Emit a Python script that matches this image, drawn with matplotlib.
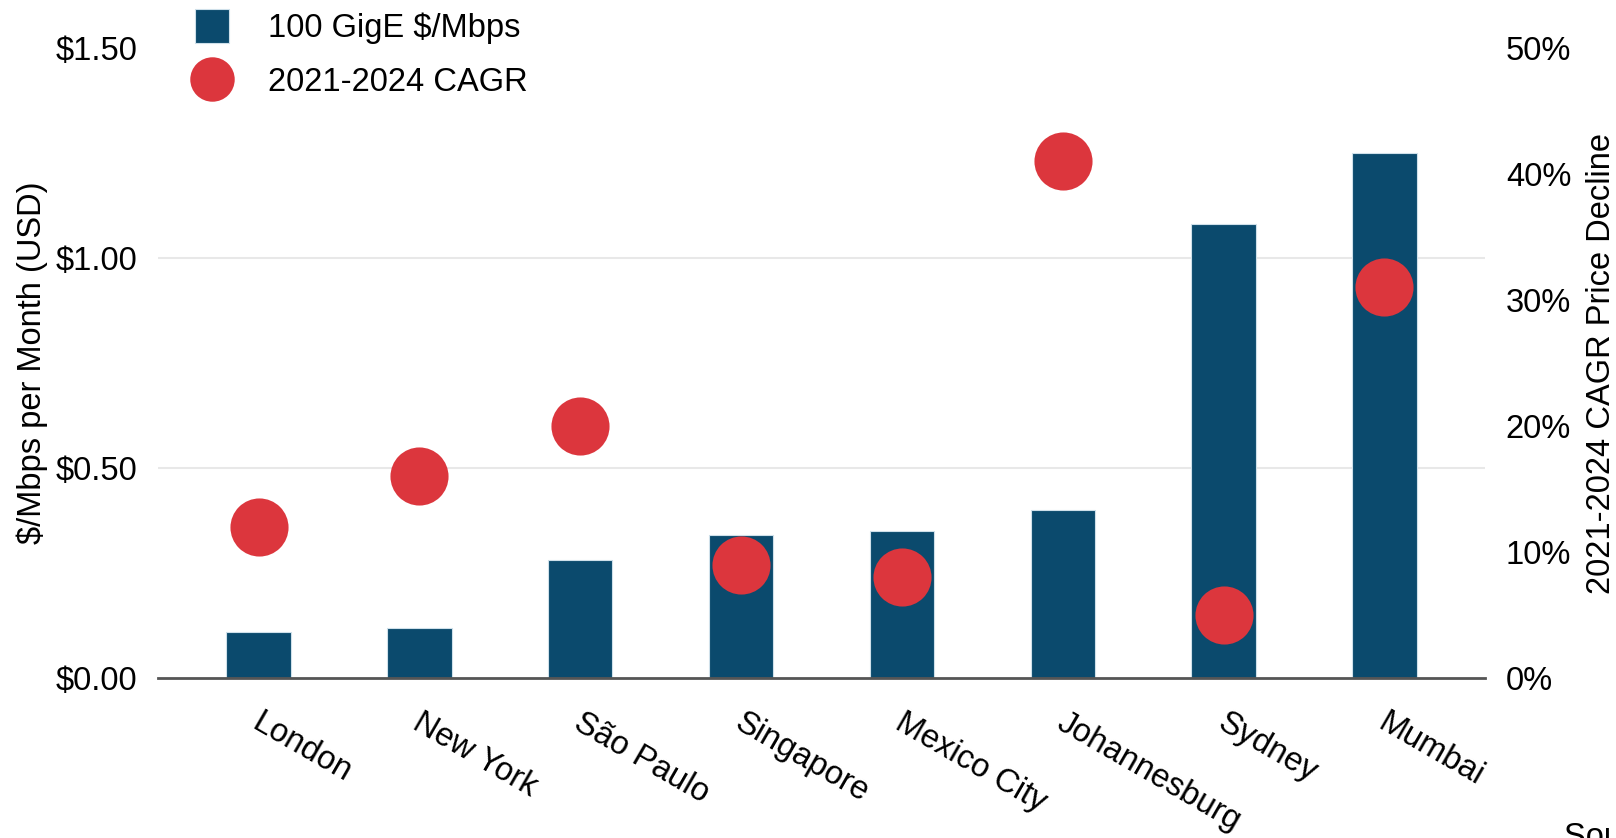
import numpy as np
import matplotlib
matplotlib.use('Agg')
import matplotlib.pyplot as plt
import matplotlib.transforms as mtransforms
from matplotlib.lines import Line2D
from matplotlib.ticker import FuncFormatter

plt.rcParams['font.family'] = ['Liberation Sans', 'DejaVu Sans']

cities = ['London', 'New York', 'São Paulo', 'Singapore', 'Mexico City',
          'Johannesburg', 'Sydney', 'Mumbai']
price_per_mbps = [0.11, 0.12, 0.28, 0.34, 0.35, 0.40, 1.08, 1.25]
cagr_decline = [12, 16, 20, 9, 8, 41, 5, 31]

bar_color = '#0b4a6d'
dot_color = '#dc363d'
fs = 23.5

fig = plt.figure(figsize=(16.16, 8.38), dpi=100)
ax = fig.add_axes([158 / 1616, 160 / 838, 1327 / 1616, 630 / 838])
x = np.arange(len(cities))

ax.bar(x, price_per_mbps, width=0.4, color=bar_color,
       edgecolor='#cfe0ea', linewidth=0.8, zorder=2)
ax.set_xlim(-0.625, len(cities) - 1 + 0.625)
ax.set_ylim(0, 1.5)
ax.set_yticks([0, 0.5, 1.0, 1.5])
ax.yaxis.set_major_formatter(FuncFormatter(lambda v, p: f'${v:.2f}'))
ax.tick_params(axis='y', length=0, pad=15, labelsize=fs)
ax.set_ylabel('$/Mbps per Month (USD)', fontsize=fs)
ax.yaxis.set_label_coords(-0.083, 0.5)

for v in [0.5, 1.0]:
    ax.axhline(v, color='#e8e8e8', linewidth=1.5, zorder=0)

for side in ['top', 'right', 'left']:
    ax.spines[side].set_visible(False)
ax.spines['bottom'].set_color('#555555')
ax.spines['bottom'].set_linewidth(2)

ax.set_xticks(x)
ax.set_xticklabels(cities, rotation=-30, ha='left', va='top',
                   rotation_mode='anchor', fontsize=fs)
ax.tick_params(axis='x', length=0, pad=21)
shift = mtransforms.ScaledTranslation(0.04, 0, fig.dpi_scale_trans)
for lbl in ax.get_xticklabels():
    lbl.set_transform(lbl.get_transform() + shift)

# CAGR on the right-hand axis
ax2 = ax.twinx()
ax2.scatter(x, cagr_decline, s=1750, color=dot_color, zorder=3, linewidths=0)
ax2.set_ylim(0, 50)
ax2.set_yticks(range(0, 51, 10))
ax2.yaxis.set_major_formatter(FuncFormatter(lambda v, p: f'{int(v)}%'))
ax2.tick_params(axis='y', length=0, pad=15, labelsize=fs)
ax2.set_ylabel('2021-2024 CAGR Price Decline', fontsize=fs)
ax2.yaxis.set_label_coords(1.076, 0.5)
for side in ['top', 'right', 'left', 'bottom']:
    ax2.spines[side].set_visible(False)

handles = [
    Line2D([], [], linestyle='none', marker='s', markersize=24,
           color=bar_color, markeredgecolor='#cfe0ea', markeredgewidth=0.8),
    Line2D([], [], linestyle='none', marker='o', markersize=32,
           color=dot_color, markeredgewidth=0),
]
fig.legend(handles, ['100 GigE $/Mbps', '2021-2024 CAGR'],
           loc='upper left', bbox_to_anchor=(173 / 1616, 1.004),
           frameon=False, fontsize=fs, handlelength=1.4,
           handletextpad=1.0, labelspacing=0.68, borderpad=0.0)

fig.text(1564 / 1616, 16 / 838, 'Source: TeleGeography', fontsize=fs,
         va='top', ha='left')

fig.savefig('out.png', dpi=100)
